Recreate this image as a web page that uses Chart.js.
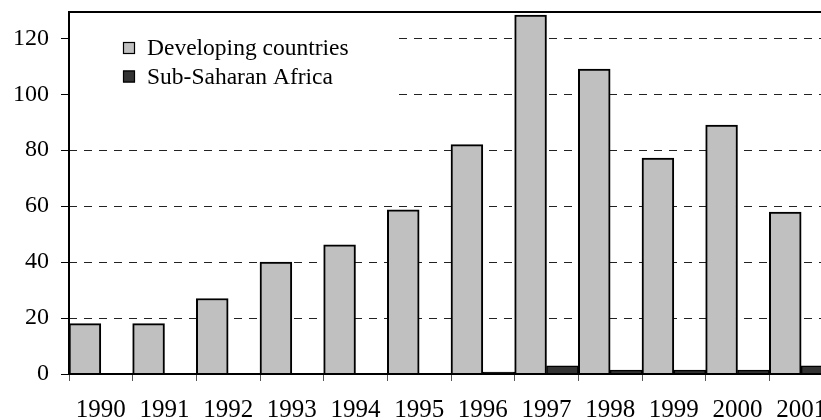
<!DOCTYPE html>
<html>
<head>
<meta charset="utf-8">
<script src="https://cdn.jsdelivr.net/npm/chart.js@4.4.1/dist/chart.umd.min.js"></script>
<style>
  html, body { margin: 0; padding: 0; background: #fff; overflow: hidden; }
  /* plot runs past the right edge of the window, like the original */
  #wrap { position: relative; width: 845px; height: 420px; }
</style>
</head>
<body>
<div id="wrap"><canvas id="chart"></canvas></div>
<script>
const years = ['1990', '1991', '1992', '1993', '1994', '1995', '1996', '1997', '1998', '1999', '2000', '2001'];
const developing = [18, 18, 27, 40, 46.2, 58.7, 82, 128.3, 109, 77.2, 89, 57.9];
const subSaharan = [0, 0, 0, 0, 0, 0, 0.7, 2.9, 1.4, 1.4, 1.4, 2.9];
const yTicks = [0, 20, 40, 60, 80, 100, 120];
const yMax = 129.4;

const FONT = '"Liberation Serif", "Times New Roman", serif';

// White box with the legend, sitting inside the plot over the grid lines
const legendPlugin = {
  id: 'insideLegend',
  afterDatasetsDraw(chart) {
    const { ctx, chartArea: a } = chart;
    ctx.save();
    ctx.fillStyle = '#fff';
    ctx.fillRect(a.left + 1, 22, 396 - a.left, 80);
    ctx.font = '23.5px ' + FONT;
    ctx.textBaseline = 'alphabetic';
    chart.data.datasets.forEach((ds, i) => {
      const base = 55 + i * 28.5;
      ctx.fillStyle = ds.backgroundColor;
      ctx.fillRect(123, base - 13, 12, 12);
      ctx.strokeStyle = '#000';
      ctx.lineWidth = 1.2;
      ctx.strokeRect(123.5, base - 12.5, 11, 11);
      ctx.fillStyle = '#000';
      ctx.fillText(ds.label, 147, base);
    });
    ctx.restore();
  }
};

// Solid frame round the plot area
const framePlugin = {
  id: 'frame',
  afterDraw(chart) {
    const { ctx, chartArea: a } = chart;
    ctx.save();
    ctx.strokeStyle = '#000';
    ctx.lineWidth = 2;
    ctx.strokeRect(a.left, a.top, a.right - a.left, a.bottom - a.top);
    ctx.restore();
  }
};

new Chart(document.getElementById('chart'), {
  type: 'bar',
  data: {
    labels: years,
    datasets: [
      {
        label: 'Developing countries',
        data: developing,
        backgroundColor: '#c0c0c0',
        borderColor: '#000',
        borderWidth: 2,
        categoryPercentage: 1,
        barPercentage: 1
      },
      {
        label: 'Sub-Saharan Africa',
        data: subSaharan,
        backgroundColor: '#333333',
        borderColor: '#000',
        borderWidth: 1.5,
        categoryPercentage: 1,
        barPercentage: 1
      }
    ]
  },
  options: {
    responsive: true,
    maintainAspectRatio: false,
    animation: false,
    layout: { padding: { top: 12, right: 12, left: 0, bottom: 0 } },
    plugins: {
      legend: { display: false },
      tooltip: { enabled: false }
    },
    scales: {
      x: {
        grid: { drawOnChartArea: false, drawTicks: true, tickLength: 7, tickColor: '#555', offset: true },
        border: { display: false },
        ticks: { font: { family: FONT, size: 25 }, color: '#000', padding: 14, maxRotation: 0, autoSkip: false },
        afterFit(scale) {
          scale.height = 46;
          scale.paddingLeft = 0;
          scale.paddingRight = 0;
        }
      },
      y: {
        min: 0,
        max: yMax,
        afterBuildTicks(scale) { scale.ticks = yTicks.map(v => ({ value: v })); },
        grid: { color: '#222', lineWidth: 1, tickLength: 8, tickColor: '#000', drawTicks: true },
        border: { display: false, dash: [8, 7] },
        ticks: { font: { family: FONT, size: 24 }, color: '#000', padding: 12 },
        afterFit(scale) {
          scale.width = 69;
          scale.paddingTop = 0;
          scale.paddingBottom = 0;
        }
      }
    }
  },
  plugins: [legendPlugin, framePlugin]
});
</script>
</body>
</html>
